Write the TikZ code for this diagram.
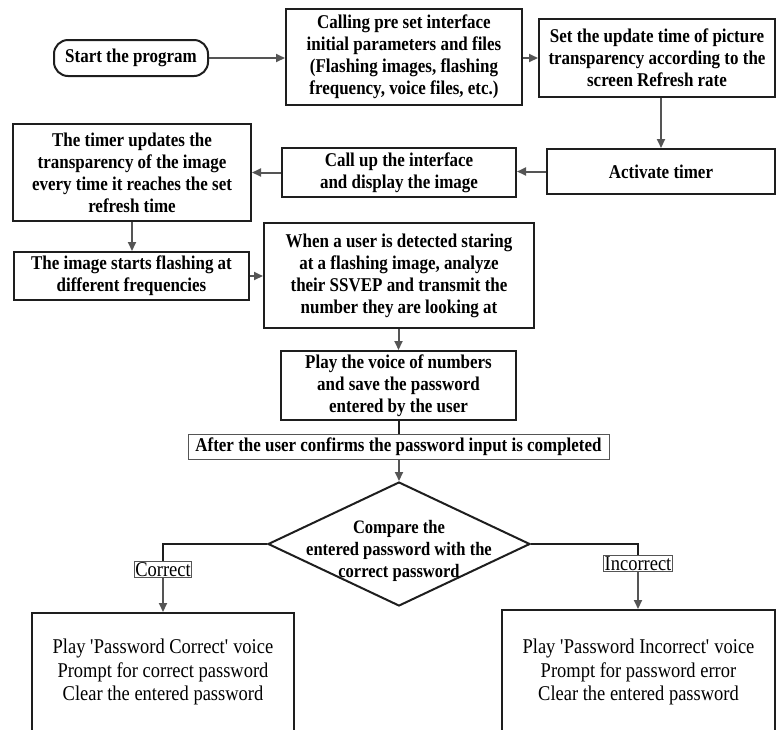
\documentclass[tikz,border=0pt]{standalone}
\usepackage{fontspec}
\setmainfont{Liberation Serif}
\newfontfamily\headfont[FakeStretch=0.87]{Liberation Serif}
\newfontfamily\bodyfont[FakeStretch=0.88]{Liberation Serif}
\usetikzlibrary{arrows.meta,shapes.geometric}

\definecolor{edge}{HTML}{1E1E1E}
\definecolor{wire}{HTML}{555555}

\tikzset{
  stepbox/.style={draw=edge, line width=2pt, align=center, inner sep=0pt,
    font=\headfont\bfseries\fontsize{19.5}{22}\selectfont},
  termbox/.style={stepbox, rounded corners=14pt},
  thinbox/.style={draw=wire, line width=1pt, inner sep=1pt,
    font=\headfont\bfseries\fontsize{19.5}{20}\selectfont},
  tagbox/.style={draw=wire, line width=1pt, inner sep=1pt,
    font=\bodyfont\fontsize{21}{21}\selectfont},
  endbox/.style={draw=edge, line width=2pt, align=center, inner sep=0pt,
    font=\bodyfont\fontsize{21}{23.5}\selectfont},
  decision/.style={diamond, draw=edge, line width=2pt, inner sep=0pt,
    aspect=2.11, minimum width=262pt, minimum height=124pt},
  arr/.style={draw=wire, line width=2pt, -{Triangle[length=9pt,width=8pt]}},
  branch/.style={draw=edge, line width=2pt}
}

\begin{document}
\begin{tikzpicture}[x=1pt, y=-1pt]
\useasboundingbox (0,0) rectangle (776,729);

% top row
\node[termbox, minimum width=154pt, minimum height=36pt] (start) at (131,58) {Start the program};
\node[stepbox, minimum width=236pt, minimum height=96pt] (call) at (404,57)
  {Calling pre set interface\\initial parameters and files\\(Flashing images, flashing\\frequency, voice files, etc.)};
\node[stepbox, minimum width=236pt, minimum height=78pt] (setupd) at (657,58)
  {Set the update time of picture\\transparency according to the\\screen Refresh rate};

% second row
\node[stepbox, minimum width=228pt, minimum height=45pt] (activ) at (661,171.5) {Activate timer};
\node[stepbox, minimum width=234pt, minimum height=49pt] (callup) at (399,172.5)
  {Call up the interface\\and display the image};
\node[stepbox, minimum width=238pt, minimum height=97pt] (timer) at (132,172.5)
  {The timer updates the\\transparency of the image\\every time it reaches the set\\refresh time};

% third row
\node[stepbox, minimum width=235pt, minimum height=48pt] (flash) at (131.5,276)
  {The image starts flashing at\\different frequencies};
\node[stepbox, minimum width=270pt, minimum height=105pt] (when) at (399,275.5)
  {When a user is detected staring\\at a flashing image, analyze\\their SSVEP and transmit the\\number they are looking at};

\node[stepbox, minimum width=235pt, minimum height=69pt] (play) at (398.5,385.5)
  {Play the voice of numbers\\and save the password\\entered by the user};
\node[thinbox, minimum width=421pt, minimum height=25pt] (after) at (398.5,446.5)
  {After the user confirms the password input is completed};

% decision
\node[decision] (cmp) at (399,544) {};
\node[align=center, inner sep=0pt, font=\headfont\bfseries\fontsize{19}{22}\selectfont] (cmptxt) at (399,551)
  {Compare the\\entered password with the\\correct password};

\node[tagbox] (corlab) at (163,569.5) {Correct};
\node[tagbox] (inclab) at (638,563.5) {Incorrect};

\node[endbox, minimum width=262pt, minimum height=118pt] (okbox) at (163,672)
  {Play \textquotesingle Password Correct\textquotesingle{} voice\\Prompt for correct password\\Clear the entered password};
\node[endbox, minimum width=273pt, minimum height=124pt] (errbox) at (638.5,672)
  {Play \textquotesingle Password Incorrect\textquotesingle{} voice\\Prompt for password error\\Clear the entered password};

% connectors
\draw[arr] (start.east) -- (start.east -| call.west);
\draw[arr] (call.east |- setupd.west) -- (setupd.west);
\draw[arr] (setupd.south -| activ.north) -- (activ.north);
\draw[arr] (activ.west) -- (activ.west -| callup.east);
\draw[arr] (callup.west) -- (callup.west -| timer.east);
\draw[arr] (timer.south) -- (timer.south |- flash.north);
\draw[arr] (flash.east) -- (flash.east -| when.west);
\draw[arr] (when.south -| play.north) -- (play.north);
\draw[branch] (play.south) -- (play.south |- after.north);
\draw[arr] (after.south -| cmp.north) -- (cmp.north);
\draw[branch] (cmp.west) -| (corlab.north);
\draw[branch] (cmp.east) -| (inclab.north);
\draw[arr] (corlab.south) -- (corlab.south |- okbox.north);
\draw[arr] (inclab.south) -- (inclab.south |- errbox.north);
\end{tikzpicture}
\end{document}
